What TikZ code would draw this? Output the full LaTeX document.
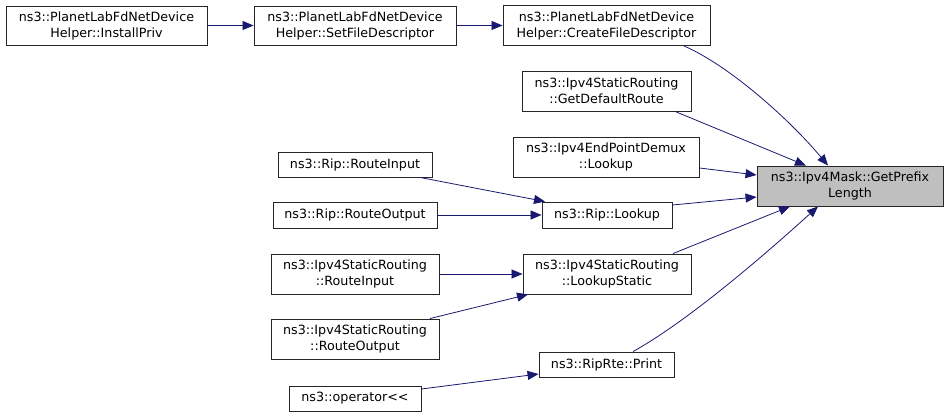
\documentclass[tikz,border=0pt]{standalone}
\usepackage{fontspec}
\setmainfont{DejaVu Sans}
\usetikzlibrary{arrows.meta}
\definecolor{edgeblue}{HTML}{191970}
\definecolor{boxgray}{HTML}{BFBFBF}
\tikzset{
  fn/.style={draw=black!85, line width=0.9pt, fill=white, inner sep=0pt, align=center,
    font=\fontsize{12.7}{16}\selectfont},
  hl/.style={fn, fill=boxgray},
  call/.style={draw=edgeblue, line width=0.8pt, -{Triangle[length=11pt,width=9pt]}},
}
\begin{document}
\begin{tikzpicture}[x=1pt,y=-1pt]
\useasboundingbox (0,0) rectangle (948,417);
\node[fn, minimum width=201pt, minimum height=39pt] (inst) at (106.5,25.5) {ns3::PlanetLabFdNetDevice\\Helper::InstallPriv};
\node[fn, minimum width=202pt, minimum height=39pt] (setfd) at (355,25.5) {ns3::PlanetLabFdNetDevice\\Helper::SetFileDescriptor};
\node[fn, minimum width=207pt, minimum height=40pt] (cfd) at (606.5,25.5) {ns3::PlanetLabFdNetDevice\\Helper::CreateFileDescriptor};
\node[fn, minimum width=169pt, minimum height=40pt] (gdr) at (606.5,91) {ns3::Ipv4StaticRouting\\::GetDefaultRoute};
\node[fn, minimum width=186pt, minimum height=40pt] (epd) at (606,157) {ns3::Ipv4EndPointDemux\\::Lookup};
\node[hl, minimum width=186pt, minimum height=40pt] (gpl) at (850,186) {ns3::Ipv4Mask::GetPrefix\\Length};
\node[fn, minimum width=154pt, minimum height=25pt] (ripin) at (355,164.5) {ns3::Rip::RouteInput};
\node[fn, minimum width=164pt, minimum height=26pt] (ripout) at (355,215) {ns3::Rip::RouteOutput};
\node[fn, minimum width=130pt, minimum height=26pt] (riplk) at (607,215) {ns3::Rip::Lookup};
\node[fn, minimum width=168pt, minimum height=40pt] (srin) at (355,274) {ns3::Ipv4StaticRouting\\::RouteInput};
\node[fn, minimum width=168pt, minimum height=40pt] (ls) at (607,274) {ns3::Ipv4StaticRouting\\::LookupStatic};
\node[fn, minimum width=168pt, minimum height=40pt] (srout) at (355,339) {ns3::Ipv4StaticRouting\\::RouteOutput};
\node[fn, minimum width=135pt, minimum height=25pt] (prt) at (606.5,364.5) {ns3::RipRte::Print};
\node[fn, minimum width=132pt, minimum height=25pt] (op) at (355,398.5) {ns3::operator{<}{<}};

\draw[call] (inst.east) -- (setfd.west);
\draw[call] (setfd.east) -- (cfd.west);
\draw[call] ([xshift=77.5pt]cfd.south) .. controls (730,66) and (790,120) .. ([xshift=-22pt]gpl.north);
\draw[call] ([xshift=68.5pt]gdr.south) -- ([xshift=-44pt]gpl.north);
\draw[call] ([yshift=-11pt]epd.east) -- ([yshift=11pt]gpl.west);
\draw[call] ([yshift=10pt]riplk.east) -- ([yshift=-11pt]gpl.west);
\draw[call] ([xshift=66pt]ls.north) -- ([xshift=-60pt]gpl.south);
\draw[call] ([xshift=26.5pt]prt.north) .. controls (690,320) and (770,250) .. ([xshift=-32pt]gpl.south);
\draw[call] ([xshift=65pt]ripin.south) -- ([xshift=-62pt]riplk.north);
\draw[call] (ripout.east) -- (riplk.west);
\draw[call] (srin.east) -- (ls.west);
\draw[call] ([xshift=75pt]srout.north) -- ([xshift=-79pt]ls.south);
\draw[call] ([yshift=9.5pt]op.east) -- ([yshift=-9.5pt]prt.west);
\end{tikzpicture}
\end{document}
